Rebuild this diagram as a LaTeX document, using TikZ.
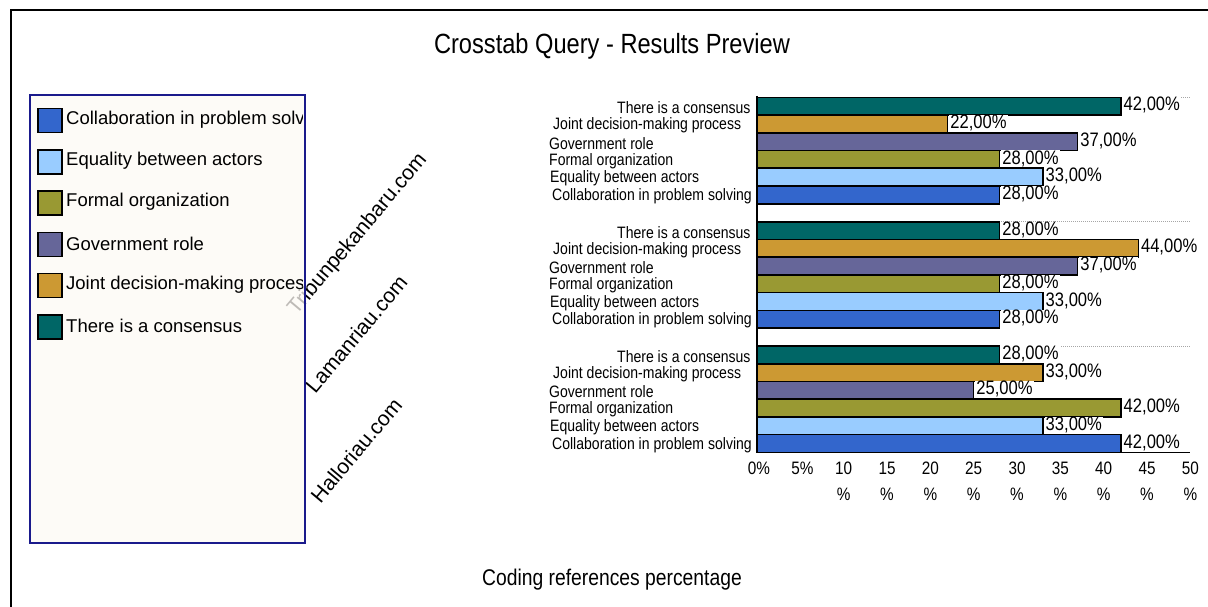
\documentclass[tikz,border=0pt]{standalone}
\usepackage{fontspec}
\setmainfont{Liberation Sans}
\newfontfamily\condfont[FakeStretch=0.85]{Liberation Sans}
\definecolor{cCol}{HTML}{3366CC}
\definecolor{cEq}{HTML}{99CCFF}
\definecolor{cFor}{HTML}{999933}
\definecolor{cGov}{HTML}{666699}
\definecolor{cJoi}{HTML}{CC9933}
\definecolor{cCon}{HTML}{006666}
\definecolor{legfill}{HTML}{FDF9F4}
\definecolor{legedge}{HTML}{1A1A8C}
\begin{document}
\begin{tikzpicture}[x=1pt,y=-1pt,
  barbox/.style={draw=black,line width=1.6pt},
  catlbl/.style={anchor=west,font=\condfont\fontsize{16.5}{16.5}\selectfont,inner sep=0pt},
  vallbl/.style={anchor=west,font=\condfont\fontsize{19.5}{19.5}\selectfont,fill=white,inner xsep=1pt,inner ysep=0pt},
  ticklbl/.style={font=\condfont\fontsize{18}{18}\selectfont,inner sep=0pt},
  sitelbl/.style={rotate=50,anchor=base,font=\fontsize{21}{21}\selectfont,inner sep=0pt},
  legtxt/.style={anchor=west,font=\fontsize{18.5}{18.5}\selectfont,inner sep=0pt},
  swatch/.style={draw=black,line width=1.5pt,minimum width=24pt,minimum height=24pt,inner sep=0pt},
  grid/.style={gray!70,densely dotted,line width=1pt}]
\useasboundingbox (0,0) rectangle (1208,607);
% outer frame
\draw[line width=1.5pt] (11,607) -- (11,10) -- (1208,10);
% titles
\node[font=\condfont\fontsize{27.8}{27.8}\selectfont,inner sep=0pt] (title) at (612,46) {Crosstab Query - Results Preview};
\node[font=\condfont\fontsize{22.7}{22.7}\selectfont,inner sep=0pt] (xtitle) at (612,580) {Coding references percentage};
% gridlines
\foreach \g in {0,1,2}{
  \draw[grid] (757,{97.5+\g*124.3}) -- (1190,{97.5+\g*124.3});
}
% bars
\foreach \g/\a/\b/\c/\d/\e/\f in {0/42/22/37/28/33/28,1/28/44/37/28/33/28,2/28/33/25/42/33/42}{
  \foreach \i/\v/\col in {0/\a/cCon,1/\b/cJoi,2/\c/cGov,3/\d/cFor,4/\e/cEq,5/\f/cCol}{
    \draw[barbox,fill=\col] (757,{97.5+\g*124.3+\i*17.7}) rectangle ({757+\v*8.667},{97.5+\g*124.3+(\i+1)*17.7});
  }
}
% value labels
\foreach \g/\a/\b/\c/\d/\e/\f in {0/42/22/37/28/33/28,1/28/44/37/28/33/28,2/28/33/25/42/33/42}{
  \foreach \i/\v in {0/\a,1/\b,2/\c,3/\d,4/\e,5/\f}{
    \node[vallbl] (val-\g-\i) at ({757+\v*8.667+1.5},{97.5+\g*124.3+(\i+0.5)*17.7-1}) {\v,00\%};
  }
}
% category labels
\foreach \g in {0,1,2}{
  \foreach \i/\xx/\t in {0/617/There is a consensus,1/553/Joint decision-making process,2/549/Government role,3/549/Formal organization,4/550/Equality between actors,5/552/Collaboration in problem solving}{
    \node[catlbl] (cat-\g-\i) at (\xx,{97.5+\g*124.3+(\i+0.5)*17.7+1.5}) {\t};
  }
}
% axes
\draw[line width=1.6pt] (757,96) -- (757,453);
\draw[line width=1.6pt] (756,452.5) -- (1190,452.5);
% tick labels
\foreach \v in {0,5}{
  \node[ticklbl] (tick-\v) at ({757+\v*8.667+2},468) {\v\%};
}
\foreach \v in {10,15,20,25,30,35,40,45,50}{
  \node[ticklbl] (tick-\v) at ({757+\v*8.667},468) {\v};
  \node[ticklbl] (tickp-\v) at ({757+\v*8.667},494) {\%};
}
% site labels
\node[sitelbl] (s1) at (362,238) {Tribunpekanbaru.com};
\node[sitelbl] (s2) at (362,339) {Lamanriau.com};
\node[sitelbl] (s3) at (362,455) {Halloriau.com};
% legend
\path[fill=legfill,fill opacity=0.75] (30,95) rectangle (305,543);
\draw[legedge,line width=1.4pt] (30,95) rectangle (305,543);
\draw[legedge,line width=2.5pt] (30,543) -- (305,543);
\begin{scope}
\clip (30,95) rectangle (302,543);
\foreach \i/\col/\t in {0/cCol/Collaboration in problem solving,1/cEq/Equality between actors,2/cFor/Formal organization,3/cGov/Government role,4/cJoi/Joint decision-making process,5/cCon/There is a consensus}{
  \node[swatch,fill=\col] (sw-\i) at (50,{120.5+\i*41.3}) {};
  \node[legtxt] (lt-\i) at (66,{119.5+\i*41.3}) {\t};
}
\end{scope}
\end{tikzpicture}
\end{document}
